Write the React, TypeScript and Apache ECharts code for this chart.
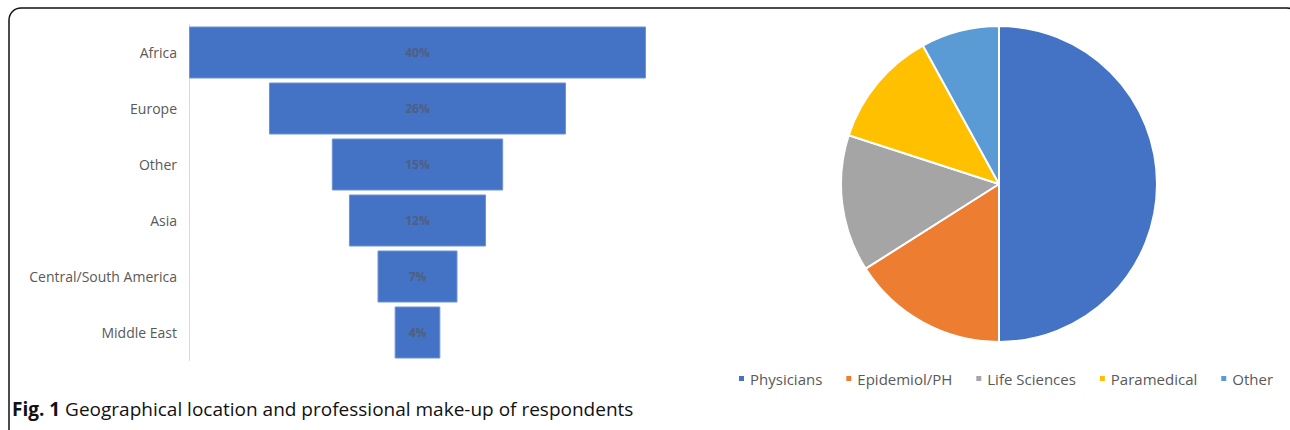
import React, { useEffect, useRef } from "react";
import * as echarts from "echarts";

const regions = ["Africa", "Europe", "Other", "Asia", "Central/South America", "Middle East"];
const regionShares = [40, 26, 15, 12, 7, 4];

const professions = ["Physicians", "Epidemiol/PH", "Life Sciences", "Paramedical", "Other"];
const professionShares = [50, 16, 14, 12, 8];
const professionColors = ["#4472C4", "#ED7D31", "#A5A5A5", "#FFC000", "#5B9BD5"];

const captionBold = "Fig. 1";
const captionText = " Geographical location and professional make-up of respondents";

const FONT = "'Open Sans', sans-serif";

export default function App() {
  const ref = useRef<HTMLDivElement>(null);
  useEffect(() => {
    if (!ref.current) return;
    const chart = echarts.init(ref.current, undefined, { renderer: "svg" });
    const maxShare = Math.max(...regionShares);
    const offsets = regionShares.map((v) => (maxShare - v) / 2);
    chart.setOption({
      animation: false,
      textStyle: { fontFamily: FONT },
      grid: { left: 189, top: 24.5, width: 457, height: 336 },
      xAxis: { type: "value", min: 0, max: maxShare, show: false },
      yAxis: {
        type: "category",
        data: regions,
        inverse: true,
        axisLine: { show: true, lineStyle: { color: "#D9D9D9", width: 1 } },
        axisTick: { show: false },
        axisLabel: { color: "#595959", fontSize: 14, margin: 12, fontFamily: FONT },
      },
      legend: {
        data: professions,
        left: 732,
        top: 366,
        icon: "rect",
        itemWidth: 7,
        itemHeight: 7,
        itemGap: 22,
        textStyle: { color: "#595959", fontSize: 15, fontFamily: FONT },
      },
      series: [
        {
          type: "bar",
          stack: "funnel",
          data: offsets,
          itemStyle: { color: "transparent" },
          barWidth: 52,
          silent: true,
        },
        {
          type: "bar",
          stack: "funnel",
          data: regionShares,
          barWidth: 52,
          itemStyle: { color: "#4472C4", borderColor: "#6F93D3", borderWidth: 1 },
          label: {
            show: true,
            position: "inside",
            formatter: (p: any) => p.value + "%",
            color: "#4F5F80",
            fontSize: 12,
            fontWeight: "bold",
            fontFamily: FONT,
          },
        },
        {
          type: "pie",
          center: [999, 184],
          radius: 158,
          startAngle: 90,
          clockwise: true,
          label: { show: false },
          labelLine: { show: false },
          itemStyle: { borderColor: "#ffffff", borderWidth: 2 },
          data: professions.map((n, i) => ({
            name: n,
            value: professionShares[i],
            itemStyle: { color: professionColors[i] },
          })),
        },
      ],
      graphic: [
        {
          type: "rect",
          shape: { x: 9, y: 8, width: 1290, height: 440, r: 12 },
          style: { fill: "none", stroke: "#111111", lineWidth: 1.5 },
          silent: true,
        },
        {
          type: "text",
          left: 12,
          top: 399,
          style: {
            text: "{b|" + captionBold + "}{r|" + captionText + "}",
            rich: {
              b: { fontFamily: FONT, fontSize: 19, fontWeight: "bold", fill: "#111111" },
              r: { fontFamily: FONT, fontSize: 19, fill: "#111111" },
            },
          },
        },
      ],
    });
    return () => chart.dispose();
  }, []);
  return (
    <div
      ref={ref}
      style={{ position: "absolute", left: 0, top: 0, width: 1290, height: 430, background: "#ffffff" }}
    />
  );
}
